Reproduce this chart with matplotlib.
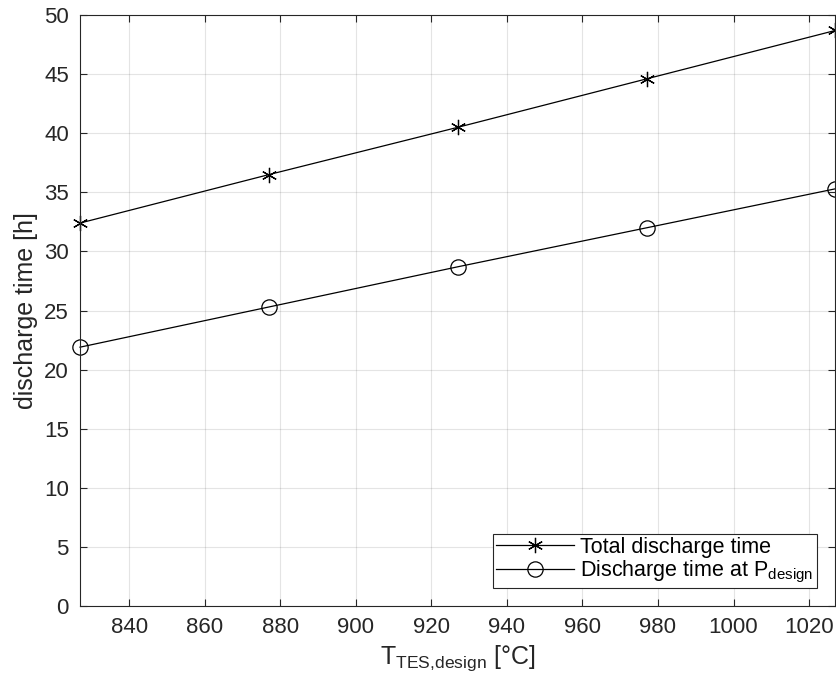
import numpy as np
import matplotlib.pyplot as plt

plt.rcParams['font.family'] = ['Liberation Sans', 'DejaVu Sans']

# data
t_design = [827, 877, 927, 977, 1027]
total_time = [32.4, 36.5, 40.5, 44.6, 48.7]
pdesign_time = [21.9, 25.3, 28.7, 32.0, 35.3]
xticks = [840, 860, 880, 900, 920, 940, 960, 980, 1000, 1020]
yticks = [0, 5, 10, 15, 20, 25, 30, 35, 40, 45, 50]

fig = plt.figure(figsize=(8.36, 6.93), dpi=100)
ax = fig.add_axes([0.0957, 0.1255, 0.9037, 0.8528])

ax.plot(t_design, total_time, color='k', linewidth=0.9, marker=(6, 2, 0),
        markersize=11, markeredgewidth=0.9, clip_on=False,
        label='Total discharge time')
ax.plot(t_design, pdesign_time, color='k', linewidth=0.9, marker='o',
        markersize=11, markerfacecolor='none', markeredgewidth=0.9,
        clip_on=False, label='Discharge time at P$_{\\mathregular{design}}$')

ax.set_xlim(827, 1027)
ax.set_ylim(0, 50)
ax.set_xticks(xticks)
ax.set_yticks(yticks)
ax.grid(True, color='#262626', alpha=0.12, linewidth=0.8)
ax.tick_params(direction='in', length=5, width=0.8, color='#262626',
               labelsize=16, labelcolor='#262626', top=True, right=True, pad=8)
for s in ax.spines.values():
    s.set_color('#262626')
    s.set_linewidth(0.8)

ax.set_xlabel('T$_{\\mathregular{TES{,}design}}$ [°C]', fontsize=18, color='#262626',
              labelpad=4)
ax.set_ylabel('discharge time [h]', fontsize=18, color='#262626', labelpad=4)

leg = ax.legend(loc='lower right', bbox_to_anchor=(0.975, 0.03), fontsize=15.5,
                fancybox=False, framealpha=1, edgecolor='#262626',
                handlelength=3.6, handletextpad=0.3, borderpad=0.15,
                borderaxespad=0, labelspacing=0.05)
leg.get_frame().set_linewidth(0.8)

fig.savefig('out.png', dpi=100)
